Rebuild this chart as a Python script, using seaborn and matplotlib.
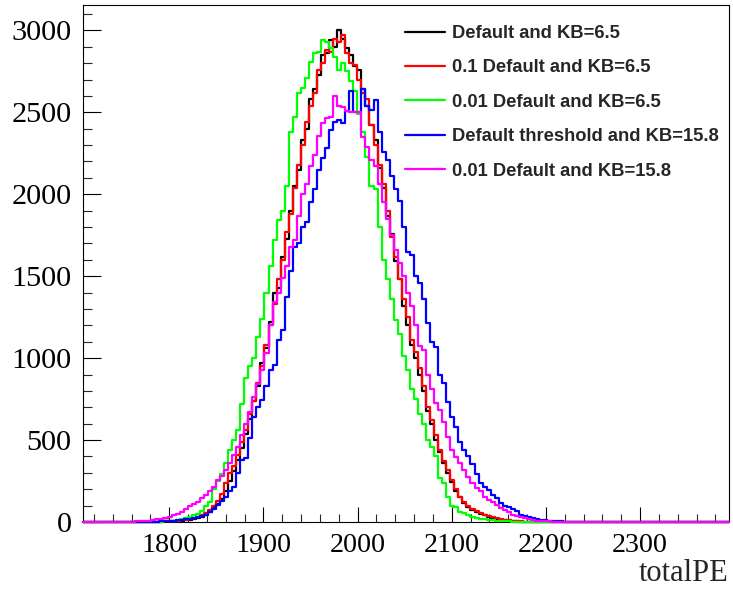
import numpy as np
import pandas as pd
import matplotlib
matplotlib.use("Agg")
import matplotlib.pyplot as plt
import seaborn as sns
from matplotlib.lines import Line2D
from matplotlib.ticker import MultipleLocator
from matplotlib.font_manager import FontProperties

# ---------------- data ----------------
x_min, x_max = 1708.0, 2394.5
n_bins = 160

series_labels = [
    "Default and KB=6.5",
    "0.1 Default and KB=6.5",
    "0.01 Default and KB=6.5",
    "Default threshold and KB=15.8",
    "0.01 Default and KB=15.8",
]
series_colors = ["#000000", "#ff0000", "#00ff00", "#0000ff", "#ff00ff"]

black_first_bin = 20
black_counts = [4, 5, 6, 7, 8, 10, 13, 17, 23, 30,
                45, 60, 85, 110, 140, 190, 250, 310, 380, 450,
                540, 630, 740, 830, 970, 1060, 1220, 1400, 1430, 1620,
                1730, 1900, 2050, 2150, 2330, 2400, 2580, 2640, 2730, 2850,
                2860, 2940, 2900, 3000, 2950, 2890, 2850, 2780, 2760, 2640,
                2540, 2420, 2330, 2160, 2040, 1870, 1760, 1590, 1480, 1320,
                1200, 1080, 1000, 900, 800, 680, 600, 500, 430, 360,
                300, 245, 190, 150, 115, 92, 75, 60, 48, 40,
                32, 26, 20, 15, 11, 8, 6, 4, 3, 2,
                2, 1, 1]

red_first_bin = 20
red_counts = [4, 5, 6, 8, 10, 13, 17, 22, 30, 40,
              55, 75, 100, 130, 170, 240, 300, 340, 410, 490,
              560, 660, 740, 850, 950, 1080, 1200, 1330, 1480, 1600,
              1770, 1880, 2040, 2180, 2300, 2440, 2540, 2620, 2760, 2800,
              2880, 2870, 2950, 2930, 2970, 2860, 2800, 2790, 2700, 2620,
              2580, 2420, 2300, 2180, 2060, 1900, 1740, 1620, 1480, 1360,
              1250, 1110, 1040, 940, 830, 700, 620, 530, 440, 370,
              318, 257, 200, 155, 120, 95, 80, 65, 53, 44,
              36, 30, 24, 19, 15, 11, 8, 6, 4, 3,
              2, 1]

green_first_bin = 16
green_counts = [1, 1, 2, 3, 5, 6, 9, 12, 16, 22,
                30, 40, 50, 70, 95, 125, 200, 250, 290, 360,
                440, 500, 560, 720, 880, 950, 1000, 1130, 1240, 1400,
                1560, 1720, 1840, 1900, 2050, 2380, 2470, 2620, 2650, 2710,
                2810, 2860, 2870, 2940, 2930, 2890, 2840, 2760, 2800, 2750,
                2690, 2630, 2490, 2380, 2230, 2050, 2030, 1800, 1600, 1480,
                1360, 1230, 1150, 1010, 930, 810, 750, 660, 600, 500,
                460, 400, 270, 236, 150, 100, 90, 60, 52, 45,
                28, 24, 20, 18, 15, 12, 9, 7, 5, 4,
                3, 2, 2, 1]

blue_first_bin = 14
blue_counts = [1, 1, 2, 2, 3, 4, 5, 6, 8, 10,
               12, 16, 20, 24, 30, 38, 45, 60, 80, 104,
               130, 155, 190, 216, 300, 379, 391, 513, 643, 704,
               745, 830, 930, 960, 1110, 1170, 1375, 1530, 1680, 1700,
               1800, 1830, 1955, 2030, 2150, 2220, 2280, 2395, 2440, 2456,
               2436, 2507, 2630, 2500, 2500, 2640, 2540, 2517, 2578, 2380,
               2260, 2210, 2110, 2030, 1960, 1800, 1650, 1630, 1500, 1460,
               1360, 1215, 1100, 1070, 900, 850, 730, 640, 580, 490,
               440, 400, 355, 290, 240, 215, 195, 165, 145, 115,
               100, 92, 78, 65, 45, 35, 28, 22, 17, 13,
               10, 8, 6, 5, 4, 3, 2, 2, 1, 1]

magenta_first_bin = 8
magenta_counts = [1, 1, 2, 2, 3, 4, 5, 7, 9, 12,
                  16, 20, 25, 32, 40, 50, 62, 80, 100, 112,
                  124, 145, 165, 190, 216, 255, 280, 318, 360, 410,
                  460, 530, 600, 670, 760, 840, 930, 1030, 1200, 1340,
                  1400, 1490, 1560, 1680, 1720, 1870, 2000, 2060, 2170, 2240,
                  2354, 2436, 2468, 2470, 2600, 2540, 2530, 2510, 2500, 2500,
                  2500, 2350, 2290, 2210, 2170, 2060, 1950, 1850, 1750, 1660,
                  1580, 1500, 1400, 1316, 1200, 1071, 1051, 900, 810, 725,
                  684, 610, 521, 440, 399, 358, 318, 277, 236, 210,
                  190, 155, 135, 120, 105, 85, 73, 60, 45, 36,
                  30, 22, 16, 12, 9, 7, 5, 4, 3, 2,
                  1]

x_major_ticks = [1800, 1900, 2000, 2100, 2200, 2300]
y_major_ticks = [0, 500, 1000, 1500, 2000, 2500, 3000]
y_max = 3155
x_title = "totalPE"

# ---------------- drawing ----------------
sns.set_theme(style="white")
plt.rcParams["font.family"] = ["Liberation Serif", "DejaVu Serif"]

W, H = 733, 589
fig = plt.figure(figsize=(W / 100, H / 100), dpi=100)
ax_l, ax_r, ax_t, ax_b = 82.7, 729.0, 5.0, 522.0
ax = fig.add_axes([ax_l / W, 1 - ax_b / H, (ax_r - ax_l) / W, (ax_b - ax_t) / H])

edges = np.linspace(x_min, x_max, n_bins + 1)
centers = 0.5 * (edges[:-1] + edges[1:])

all_series = [
    (black_first_bin, black_counts),
    (red_first_bin, red_counts),
    (green_first_bin, green_counts),
    (blue_first_bin, blue_counts),
    (magenta_first_bin, magenta_counts),
]

frames = []
for label, (first, counts) in zip(series_labels, all_series):
    full = np.zeros(n_bins)
    full[first:first + len(counts)] = counts
    frames.append(pd.DataFrame({"totalPE": centers, "count": full, "series": label}))
data = pd.concat(frames, ignore_index=True)

for k, (label, color) in enumerate(zip(series_labels, series_colors)):
    sub = data[data["series"] == label].reset_index(drop=True)
    n_before = len(ax.lines)
    sns.histplot(data=sub, x="totalPE", weights="count", bins=n_bins,
                 binrange=(x_min, x_max), element="step", fill=False,
                 color=color, linewidth=1.6, ax=ax)
    for ln in ax.lines[n_before:]:
        ln.set_zorder(3 + 0.1 * k)
        ln.set_clip_on(False)

ax.set_xlim(x_min, x_max)
ax.set_ylim(0, y_max)
ax.set_ylabel("")
ax.set_xlabel(x_title, fontsize=22, loc="right")
ax.xaxis.set_label_coords(1.0, -(581 - 522) / (ax_b - ax_t))
ax.xaxis.label.set_va("baseline")
ax.xaxis.label.set_ha("right")

ax.set_xticks(x_major_ticks)
ax.set_yticks(y_major_ticks)
ax.xaxis.set_minor_locator(MultipleLocator(20))
ax.yaxis.set_minor_locator(MultipleLocator(100))
ax.tick_params(axis="x", which="major", direction="in", length=11, width=0.8,
               labelsize=20.2, pad=8, top=False, bottom=True, colors="black")
ax.tick_params(axis="x", which="minor", direction="in", length=6, width=0.8,
               top=False, bottom=True)
ax.tick_params(axis="y", which="major", direction="in", length=13, width=0.8,
               labelsize=21.8, pad=8, right=False, left=True, colors="black")
ax.tick_params(axis="y", which="minor", direction="in", length=6.5, width=0.8,
               right=False, left=True)
for s in ax.spines.values():
    s.set_visible(True)
    s.set_color("black")
    s.set_linewidth(0.8)
    s.set_zorder(2.5)
ax.grid(False)
ax.set_facecolor("white")

handles = [Line2D([0], [0], color=c, lw=1.6) for c in series_colors]
leg_font = FontProperties(family="Liberation Sans", weight="bold", size=13.2)
ax.legend(handles, series_labels, prop=leg_font, frameon=False,
          loc="upper left", bbox_to_anchor=(405 / W, 1 - 25 / H),
          bbox_transform=fig.transFigure, borderpad=0, borderaxespad=0,
          handlelength=2.19, handletextpad=0.38, labelspacing=0.95)

fig.savefig("out.png", dpi=100, facecolor="white")
